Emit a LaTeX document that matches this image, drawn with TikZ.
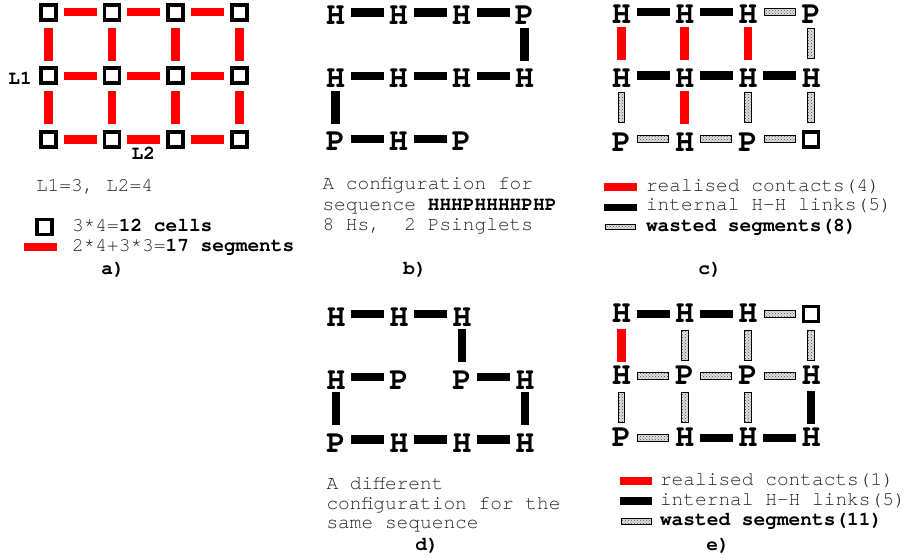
\documentclass[tikz,border=0pt]{standalone}
\usepackage{fontspec}
\setmonofont{TeX Gyre Cursor}
\usetikzlibrary{patterns}
\tikzset{
  every node/.style={inner sep=0pt, outer sep=0pt},
  res/.style={font=\ttfamily\bfseries\fontsize{32}{32}\selectfont, yshift=-#1},
  res/.default=2.5pt,
  lbl/.style={font=\ttfamily\bfseries\fontsize{19.5}{20}\selectfont},
  txt/.style={font=\ttfamily\fontsize{19.5}{20}\selectfont, text=black!85, anchor=base west},
  panelcap/.style={font=\ttfamily\bfseries\fontsize{19.5}{20}\selectfont, anchor=base},
  cellsq/.style={draw=black, line width=3.7pt, minimum size=15pt},
  hs/.style={minimum width=33pt, minimum height=8.5pt},
  vs/.style={minimum width=8.5pt, minimum height=33pt},
  hw/.style={minimum width=31pt, minimum height=6.8pt},
  vw/.style={minimum width=6.8pt, minimum height=30pt},
  segred/.style={fill=red},
  segblk/.style={fill=black},
  segwst/.style={draw=black, line width=0.9pt, preaction={fill=black!12}, pattern=crosshatch dots, pattern color=black!70},
}
\begin{document}
\begin{tikzpicture}[x=1pt, y=-1pt]
\useasboundingbox (0,0) rectangle (907,558);

% ---------------- panel a
\begin{scope}[shift={(48.3,12.2)}, x=63.7pt, y=-63.6pt]
  \foreach \i in {0,...,3} \foreach \j in {0,1,2} \node[cellsq] (a\i\j) at (\i,\j) {};
  \foreach \i in {0,1,2} \foreach \j in {0,1,2} \node[hs,segred] (ah\i\j) at (\i+0.5,\j) {};
  \foreach \i in {0,...,3} \foreach \j in {0,1} \node[vs,segred] (av\i\j) at (\i,\j+0.5) {};
\end{scope}
\node[lbl] (L1) at (20,78) {L1};
\node[lbl] (L2) at (143.3,153) {L2};
\node[txt] (ta1) at (36,191.7) {L1=3, L2=4};
\node[cellsq] (alsq) at (44.2,227) {};
\node[segred, minimum width=32.7pt, minimum height=8.3pt] (alred) at (40.3,246.7) {};
\node[txt] (ta2) at (72,231) {3*4=\textbf{\color{black}12 cells}};
\node[txt] (ta3) at (72,251.7) {2*4+3*3=\textbf{\color{black}17 segments}};
\node[panelcap] (capa) at (113,274.5) {a)};

% ---------------- panel b
\begin{scope}[shift={(335.5,12.5)}, x=63pt, y=-63.3pt]
  \node[res] (b00) at (0,0) {H}; \node[res] (b10) at (1,0) {H};
  \node[res] (b20) at (2,0) {H}; \node[res] (b30) at (3,0) {P};
  \node[res] (b01) at (0,1) {H}; \node[res] (b11) at (1,1) {H};
  \node[res] (b21) at (2,1) {H}; \node[res] (b31) at (3,1) {H};
  \node[res] (b02) at (0,2) {P}; \node[res] (b12) at (1,2) {H};
  \node[res] (b22) at (2,2) {P};
  \node[hs,segblk] (bh00) at (0.5,0) {};
  \node[hs,segblk] (bh10) at (1.5,0) {};
  \node[hs,segblk] (bh20) at (2.5,0) {};
  \node[vs,segblk] (bv30) at (3,0.5) {};
  \node[hs,segblk] (bh01) at (0.5,1) {};
  \node[hs,segblk] (bh11) at (1.5,1) {};
  \node[hs,segblk] (bh21) at (2.5,1) {};
  \node[vs,segblk] (bv01) at (0,1.5) {};
  \node[hs,segblk] (bh02) at (0.5,2) {};
  \node[hs,segblk] (bh12) at (1.5,2) {};
\end{scope}
\node[txt] (tb1) at (322.5,189.3) {A configuration for};
\node[txt] (tb2) at (322.5,210) {sequence \textbf{\color{black}HHHPHHHHPHP}};
\node[txt] (tb3) at (322.5,230) {8 Hs,\ \ 2 Psinglets};
\node[panelcap] (capb) at (415,274.5) {b)};

% ---------------- panel c
\begin{scope}[shift={(621.5,12)}, x=63.2pt, y=-63.6pt]
  \node[res] (c00) at (0,0) {H}; \node[res] (c10) at (1,0) {H};
  \node[res] (c20) at (2,0) {H}; \node[res] (c30) at (3,0) {P};
  \node[res] (c01) at (0,1) {H}; \node[res] (c11) at (1,1) {H};
  \node[res] (c21) at (2,1) {H}; \node[res] (c31) at (3,1) {H};
  \node[res] (c02) at (0,2) {P}; \node[res] (c12) at (1,2) {H};
  \node[res] (c22) at (2,2) {P}; \node[cellsq] (c32) at (3,2) {};
  \node[hs,segblk] (ch00) at (0.5,0) {};
  \node[hs,segblk] (ch10) at (1.5,0) {};
  \node[hw,segwst] (ch20) at (2.5,0) {};
  \node[vs,segred] (cv00) at (0,0.5) {};
  \node[vs,segred] (cv10) at (1,0.5) {};
  \node[vs,segred] (cv20) at (2,0.5) {};
  \node[vw,segwst] (cv30) at (3,0.5) {};
  \node[hs,segblk] (ch01) at (0.5,1) {};
  \node[hs,segblk] (ch11) at (1.5,1) {};
  \node[hs,segblk] (ch21) at (2.5,1) {};
  \node[vw,segwst] (cv01) at (0,1.5) {};
  \node[vs,segred] (cv11) at (1,1.5) {};
  \node[vw,segwst] (cv21) at (2,1.5) {};
  \node[vw,segwst] (cv31) at (3,1.5) {};
  \node[hw,segwst] (ch02) at (0.5,2) {};
  \node[hw,segwst] (ch12) at (1.5,2) {};
  \node[hw,segwst] (ch22) at (2.5,2) {};
\end{scope}
\node[segred, minimum width=32.7pt, minimum height=7.4pt] (clr) at (620.3,187) {};
\node[segblk, minimum width=32.7pt, minimum height=7.2pt] (clb) at (620.3,207.5) {};
\node[segwst, minimum width=30pt, minimum height=4.6pt] (clw) at (620.3,226.7) {};
\node[txt] (tc1) at (646,191.7) {realised contacts(4)};
\node[txt] (tc2) at (646,210.8) {internal H-H links(5)};
\node[txt] (tc3) at (646,231) {\textbf{\color{black}wasted segments(8)}};
\node[panelcap] (capc) at (710,274.5) {c)};

% ---------------- panel d
\begin{scope}[shift={(336,314)}, x=63pt, y=-62.8pt]
  \node[res=3.5pt] (d00) at (0,0) {H}; \node[res=3.5pt] (d10) at (1,0) {H};
  \node[res=3.5pt] (d20) at (2,0) {H};
  \node[res=3.5pt] (d01) at (0,1) {H}; \node[res=3.5pt] (d11) at (1,1) {P};
  \node[res=3.5pt] (d21) at (2,1) {P}; \node[res=3.5pt] (d31) at (3,1) {H};
  \node[res=3.5pt] (d02) at (0,2) {P}; \node[res=3.5pt] (d12) at (1,2) {H};
  \node[res=3.5pt] (d22) at (2,2) {H}; \node[res=3.5pt] (d32) at (3,2) {H};
  \node[hs,segblk] (dh00) at (0.5,0) {};
  \node[hs,segblk] (dh10) at (1.5,0) {};
  \node[vs,segblk] (dv20) at (2,0.5) {};
  \node[hs,segblk] (dh01) at (0.5,1) {};
  \node[hs,segblk] (dh21) at (2.5,1) {};
  \node[vs,segblk] (dv01) at (0,1.5) {};
  \node[vs,segblk] (dv31) at (3,1.5) {};
  \node[hs,segblk] (dh02) at (0.5,2) {};
  \node[hs,segblk] (dh12) at (1.5,2) {};
  \node[hs,segblk] (dh22) at (2.5,2) {};
\end{scope}
\node[txt] (td1) at (326.5,489.3) {A different};
\node[txt] (td2) at (326.5,509.3) {configuration for the};
\node[txt] (td3) at (326.5,528.8) {same sequence};
\node[panelcap] (capd) at (427,550) {d)};

% ---------------- panel e
\begin{scope}[shift={(621.5,314)}, x=63.2pt, y=-62pt]
  \node[res=-1pt] (e00) at (0,0) {H}; \node[res=-1pt] (e10) at (1,0) {H};
  \node[res=-1pt] (e20) at (2,0) {H}; \node[cellsq] (e30) at (3,0) {};
  \node[res=-1pt] (e01) at (0,1) {H}; \node[res=-1pt] (e11) at (1,1) {P};
  \node[res=-1pt] (e21) at (2,1) {P}; \node[res=-1pt] (e31) at (3,1) {H};
  \node[res=-1pt] (e02) at (0,2) {P}; \node[res=-1pt] (e12) at (1,2) {H};
  \node[res=-1pt] (e22) at (2,2) {H}; \node[res=-1pt] (e32) at (3,2) {H};
  \node[hs,segblk] (eh00) at (0.5,0) {};
  \node[hs,segblk] (eh10) at (1.5,0) {};
  \node[hw,segwst] (eh20) at (2.5,0) {};
  \node[vs,segred] (ev00) at (0,0.5) {};
  \node[vw,segwst] (ev10) at (1,0.5) {};
  \node[vw,segwst] (ev20) at (2,0.5) {};
  \node[vw,segwst] (ev30) at (3,0.5) {};
  \node[hw,segwst] (eh01) at (0.5,1) {};
  \node[hw,segwst] (eh11) at (1.5,1) {};
  \node[hw,segwst] (eh21) at (2.5,1) {};
  \node[vw,segwst] (ev01) at (0,1.5) {};
  \node[vw,segwst] (ev11) at (1,1.5) {};
  \node[vw,segwst] (ev21) at (2,1.5) {};
  \node[vs,segblk] (ev31) at (3,1.5) {};
  \node[hw,segwst] (eh02) at (0.5,2) {};
  \node[hs,segblk] (eh12) at (1.5,2) {};
  \node[hs,segblk] (eh22) at (2.5,2) {};
\end{scope}
\node[segred, minimum width=32.3pt, minimum height=8.5pt] (elr) at (636.2,481) {};
\node[segblk, minimum width=32.3pt, minimum height=8pt] (elb) at (636.2,501) {};
\node[segwst, minimum width=30pt, minimum height=5.8pt] (elw) at (636.2,521.7) {};
\node[txt] (te1) at (660,485.7) {realised contacts(1)};
\node[txt] (te2) at (660,505) {internal H-H links(5)};
\node[txt] (te3) at (660,525) {\textbf{\color{black}wasted segments(11)}};
\node[panelcap] (cape) at (718,550) {e)};
\end{tikzpicture}
\end{document}
